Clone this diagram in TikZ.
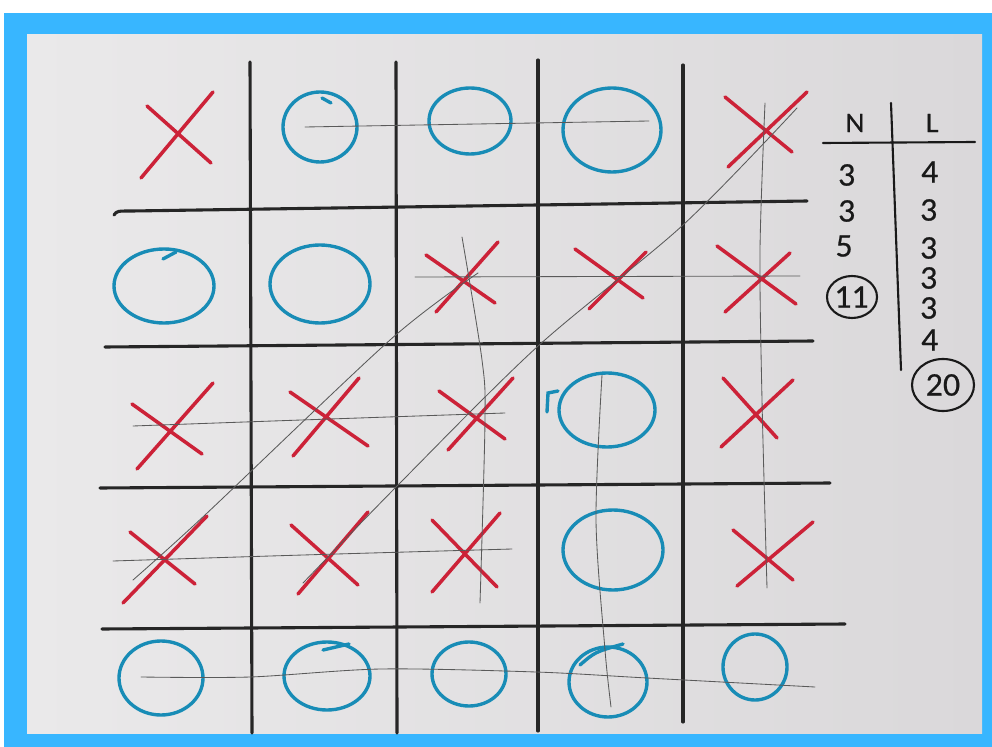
\documentclass[tikz,border=0pt]{standalone}
\usepackage{fontspec}
\setsansfont{Lato}
\newfontfamily\handfont[FakeBold=0.8]{Lato}
\definecolor{frameblue}{RGB}{56,182,255}
\definecolor{paperl}{RGB}{234,233,234}
\definecolor{paperr}{RGB}{218,216,218}
\definecolor{inkred}{RGB}{204,34,56}
\definecolor{inkblue}{RGB}{24,140,182}
\definecolor{pencil}{RGB}{90,90,90}
\tikzset{grd/.style={line width=2.2pt,black!85,line cap=round},
 pen/.style={line width=0.6pt,pencil,line cap=round},
 xs/.style={line width=2.5pt,inkred,line cap=round},
 os/.style={line width=2.4pt,inkblue,line cap=round},
 tbl/.style={line width=1.5pt,black!90,line cap=round},
 hand/.style={font=\handfont\fontsize{21}{21}\selectfont,inner sep=0pt,text=black!90},
 head/.style={hand,font=\handfont\fontsize{18}{18}\selectfont}}

\begin{document}
\begin{tikzpicture}[x=0.025cm,y=-0.025cm]
\useasboundingbox (0,0) rectangle (992,747);
% frame and paper
\fill[white] (0,0) rectangle (992,747);
\fill[frameblue] (4,13) rectangle (992,747);
\shade[left color=paperl,right color=paperr] (27,35) rectangle (982,733);
% grid
\draw[grd] (250,62)--(252,733);\draw[grd] (396,62)--(397,733);
\draw[grd] (538,60)--(538,731);\draw[grd] (683,65)--(683,722);
\draw[grd] (114,215) .. controls (117,211) .. (132,211)--(807,201);
\draw[grd] (105,347)--(813,341);
\draw[grd] (100,488)--(830,483);
\draw[grd] (102,629)--(845,624);
% crosses
\foreach \ax/\ay/\bx/\by/\cx/\cy/\dx/\dy in {147/106/211/163/213/92/141/178,
 725/97/792/152/807/92/728/167, 426/255/495/303/498/242/436/312,
 575/249/643/298/646/252/589/309, 717/246/796/304/790/253/725/312,
 132/404/202/454/213/383/137/469, 290/392/368/446/359/378/293/456,
 439/391/505/439/513/378/448/450, 723/378/777/438/793/380/721/447,
 130/532/195/584/207/516/123/603, 291/525/358/585/368/512/298/594,
 432/520/497/587/500/513/432/592, 733/530/793/580/813/522/737/586}
 \draw[xs] (\ax,\ay)--(\bx,\by) (\cx,\cy)--(\dx,\dy);
% noughts
\foreach \cx/\cy/\rx/\ry in {320/127/37/35, 470/121/41/33, 612/130/49/42,
 164/286/50/37, 320/284/50/39, 607/410/48/37, 613/550/50/40,
 161/678/42/37, 327/676/43/34, 469/674/37/32, 608/682/39/35, 755/667/32/33}
 \draw[os] (\cx,\cy) ellipse [x radius=\rx,y radius=\ry];
\draw[os] (322,98)--(331,103);\draw[os] (163,259)--(176,252);
\draw[os] (547,412)--(548,393)--(558,391);\draw[os] (323,650)--(349,644);
\draw[os] (580,665) .. controls (595,652) .. (623,644);
% pencil lines
\draw[pen] (305,127)--(649,121);
\draw[pen] (415,277)--(800,276);
\draw[pen] (133,426) .. controls (300,420) .. (505,413);
\draw[pen] (113,561) .. controls (300,555) .. (512,549);
\draw[pen] plot[smooth] coordinates {(141,677)(250,677)(381,669)(536,672)(647,678)(815,687)};
\draw[pen] plot[smooth] coordinates {(462,237)(482,360)(485,420)(480,603)};
\draw[pen] plot[smooth] coordinates {(602,375)(596,520)(605,650)(611,707)};
\draw[pen] plot[smooth] coordinates {(765,103)(760,250)(762,400)(767,588)};
\draw[pen] plot[smooth] coordinates {(797,108)(683,225)(537,347)(400,483)(303,583)};
\draw[pen] plot[smooth] coordinates {(478,273)(390,340)(205,515)(133,580)};
% tally
\node[head] (hN) at (855,123){N};\node[head] (hL) at (932,123){L};
\draw[tbl] (823,143)--(975,142);\draw[tbl] (891,103)--(901,370);
\node[hand] (n1) at (847,175){3};\node[hand] (n2) at (847,211){3};
\node[hand] (n3) at (844,246){5};\node[hand] (nsum) at (852,297){11};
\draw[tbl] (nsum) ellipse [x radius=25,y radius=21];
\node[hand] (l1) at (930,172){4};\node[hand] (l2) at (929,210){3};
\node[hand] (l3) at (929,248){3};\node[hand] (l4) at (929,278){3};
\node[hand] (l5) at (929,308){3};\node[hand] (l6) at (930,340){4};
\node[hand] (lsum) at (943,385){20};
\draw[tbl] (lsum) ellipse [x radius=31,y radius=26];
\end{tikzpicture}
\end{document}
